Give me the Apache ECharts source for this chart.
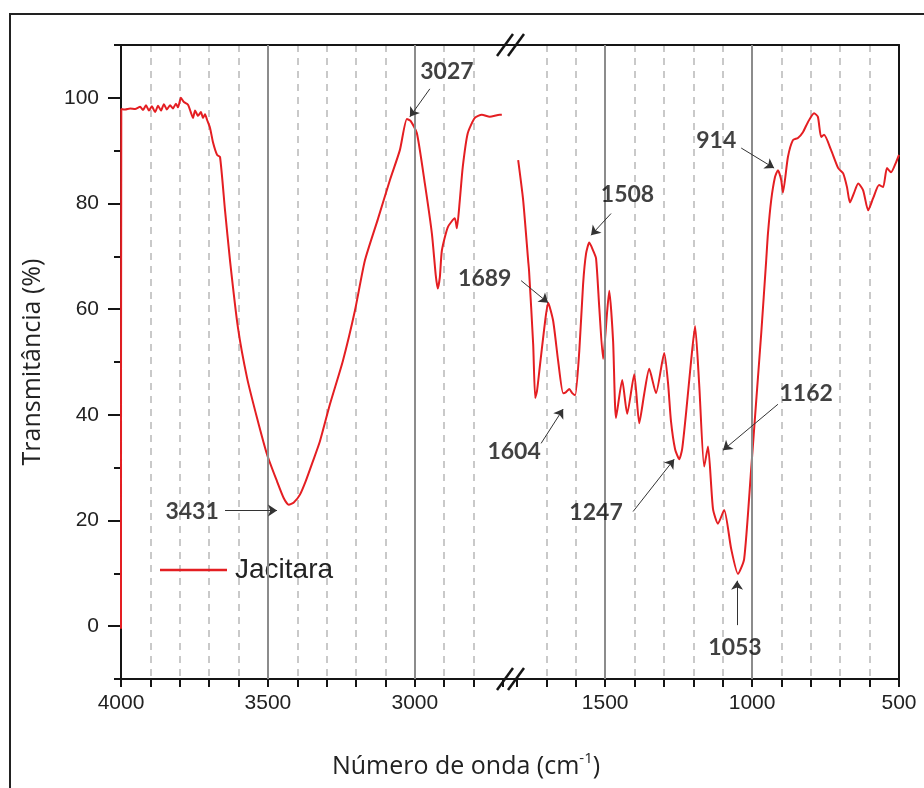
<!DOCTYPE html>
<html><head><meta charset="utf-8">
<script src="https://cdn.jsdelivr.net/npm/echarts@6/dist/echarts.min.js"></script>
<style>html,body{margin:0;padding:0;background:#fff}#c{width:924px;height:788px}</style>
</head><body><div id="c"></div>
<script>
// ---------- data ----------
const leftWavenumber = [4000, 3999, 3986, 3969, 3952, 3935, 3925, 3915, 3905, 3895, 3884, 3874, 3864, 3854, 3844, 3833, 3823, 3813, 3806, 3796, 3786, 3772, 3762, 3755, 3748, 3738, 3728, 3721, 3714, 3707, 3697, 3687, 3673, 3663, 3646, 3629, 3602, 3571, 3537, 3503, 3469, 3446, 3429, 3412, 3391, 3371, 3347, 3323, 3289, 3245, 3204, 3170, 3126, 3085, 3051, 3027, 3014, 2993, 2966, 2942, 2929, 2922, 2915, 2908, 2888, 2864, 2857, 2847, 2837, 2820, 2796, 2772, 2745, 2711, 2704];
const leftTransmittance = [-0.5, 97.9, 97.8, 98.0, 97.9, 98.3, 97.7, 98.6, 97.6, 98.4, 97.3, 98.5, 97.6, 98.8, 97.8, 98.6, 98.0, 98.9, 98.2, 100.0, 99.2, 98.7, 97.2, 96.2, 97.6, 96.6, 97.3, 96.2, 96.9, 95.8, 94.3, 91.6, 89.2, 88.8, 78.7, 69.2, 56.5, 47.0, 39.4, 32.5, 27.4, 24.2, 23.0, 23.4, 24.9, 27.5, 31.2, 35.0, 42.0, 50.2, 59.7, 69.2, 77.0, 84.4, 90.1, 96.0, 95.6, 93.3, 83.8, 74.3, 66.5, 63.9, 66.0, 71.1, 75.5, 77.2, 75.3, 80.6, 86.9, 93.3, 96.2, 96.8, 96.4, 96.8, 96.8];
const rightWavenumber = [1796, 1779, 1762, 1759, 1745, 1738, 1732, 1724, 1707, 1694, 1677, 1660, 1643, 1633, 1622, 1612, 1602, 1588, 1575, 1565, 1554, 1541, 1531, 1520, 1507, 1493, 1486, 1473, 1463, 1442, 1425, 1401, 1384, 1367, 1350, 1327, 1299, 1286, 1276, 1262, 1248, 1238, 1224, 1207, 1194, 1180, 1163, 1150, 1133, 1116, 1095, 1071, 1048, 1027, 1003, 986, 969, 952, 946, 935, 922, 912, 901, 895, 878, 861, 844, 827, 810, 789, 776, 765, 755, 731, 707, 690, 677, 667, 653, 639, 622, 605, 588, 568, 554, 541, 527, 510, 500];
const rightTransmittance = [88.2, 80.6, 69.2, 67.3, 53.4, 43.2, 44.5, 48.3, 56.5, 61.2, 57.8, 50.2, 44.1, 44.3, 44.9, 44.1, 43.7, 52.1, 64.8, 70.5, 72.6, 71.1, 69.6, 60.3, 50.6, 59.7, 63.5, 54.0, 39.4, 46.6, 40.2, 47.7, 38.4, 44.0, 48.7, 44.1, 51.7, 46.0, 38.8, 33.5, 31.6, 33.5, 40.7, 50.5, 56.8, 45.8, 30.2, 34.0, 22.2, 19.4, 22.0, 14.6, 9.9, 12.7, 29.8, 42.6, 55.3, 69.2, 74.3, 80.6, 85.0, 86.3, 84.5, 82.1, 88.8, 92.0, 92.4, 93.5, 95.4, 97.1, 96.4, 92.6, 93.0, 90.1, 86.7, 85.7, 83.1, 80.2, 82.0, 83.8, 82.5, 78.7, 81.0, 83.5, 83.1, 86.7, 85.9, 87.8, 89.2];

const yTickLabels = [0, 20, 40, 60, 80, 100];
const leftXTickLabels = [4000, 3500, 3000];
const rightXTickLabels = [1500, 1000, 500];
const seriesName = 'Jacitara';

// peak annotations (text, text anchor in data units, arrow tail, arrow head)
const leftPeakLabels = ['3431', '3027', '1689'];
const leftPeakTextAt = [[3758, 21.7], [2891, 104.9], [2762, 65.8]];
const leftArrowFrom = [[3646, 21.9], [2949, 101.7]];
const leftArrowTo = [[3469, 21.9], [3017, 96.4]];
const rightPeakLabels = ['1508', '1604', '1247', '1162', '1053', '914'];
const rightPeakTextAt = [[1424, 81.6], [1810, 33.1], [1531, 21.5], [816, 44.1], [1058, -4.0], [1122, 92.0]];
const rightArrowFrom = [[1480, 78.1], [1786, 65.4], [1718, 34.6], [1405, 21.7], [912, 42.0], [1051, 0.2], [1037, 90.5]];
const rightArrowTo = [[1548, 74.0], [1694, 61.2], [1643, 41.1], [1265, 31.6], [1099, 33.3], [1051, 8.6], [925, 86.7]];

// ---------- style / layout ----------
const RED = '#e41e22';
const AX = '#151515';
const numFont = '"Liberation Sans", Arial, sans-serif';
const txtFont = 'Lato, "Open Sans", sans-serif';
const titleFont = '"Open Sans", Lato, sans-serif';
const GT = 45, GH = 634, L1 = 121, W = 382, L2 = 517;

const pairs = (xs, ys) => xs.map((x, i) => [x, ys[i]]);
const dashed = { show: true, showMinLine: false, showMaxLine: false, lineStyle: { color: '#b8b8b8', width: 1.5, type: [7, 6] } };

function bottomX(grid, min, max, labels) {
  return {
    type: 'value', gridIndex: grid, position: 'bottom', min, max, inverse: true, interval: 100,
    axisLine: { show: true, onZero: false, lineStyle: { color: AX, width: 2 } },
    axisTick: { show: true, inside: false, length: 8, lineStyle: { color: AX, width: 2 } },
    axisLabel: { show: true, showMinLabel: true, showMaxLabel: true, margin: 14, fontSize: 21, fontFamily: numFont, color: '#222',
      formatter: v => labels.includes(v) ? String(v) : '' },
    splitLine: dashed
  };
}
function topX(grid, min, max) {
  return {
    type: 'value', gridIndex: grid, position: 'top', min, max, inverse: true,
    axisLine: { show: true, onZero: false, lineStyle: { color: AX, width: 2 } },
    axisTick: { show: false }, axisLabel: { show: false }, splitLine: { show: false }
  };
}
function annotationSeries(xi, yi, labels, textAt, from, to) {
  return {
    type: 'scatter', name: 'ann' + xi, xAxisIndex: xi, yAxisIndex: yi, clip: false, silent: true,
    symbolSize: 1, itemStyle: { color: 'rgba(0,0,0,0)' }, z: 6,
    data: textAt.map((p, i) => [p[0], p[1], labels[i]]),
    label: { show: true, position: 'inside', formatter: p => p.value[2], fontFamily: txtFont, fontWeight: 'bold', fontSize: 23, color: '#111' },
    markLine: {
      silent: true, symbol: ['none', 'arrow'], symbolSize: 9, animation: false,
      label: { show: false }, lineStyle: { color: '#333', width: 1, type: 'solid' },
      data: from.map((f, i) => [{ coord: f }, { coord: to[i] }])
    }
  };
}

const chart = echarts.init(document.getElementById('c'), null, { renderer: 'canvas' });
const option = {
  animation: false,
  backgroundColor: '#fff',
  grid: [
    { left: L1, top: GT, width: W, height: GH, containLabel: false, outerBoundsMode: 'none' },
    { left: L2, top: GT, width: W, height: GH, containLabel: false, outerBoundsMode: 'none' }
  ],
  xAxis: [
    bottomX(0, 2700, 4000, leftXTickLabels),
    topX(0, 2700, 4000),
    bottomX(1, 500, 1800, rightXTickLabels),
    topX(1, 500, 1800)
  ],
  yAxis: [
    { type: 'value', gridIndex: 0, min: -10, max: 110, interval: 10, position: 'left',
      axisLine: { show: true, onZero: false, lineStyle: { color: AX, width: 2 } },
      axisTick: { show: true, length: 7, lineStyle: { color: AX, width: 2 } },
      axisLabel: { show: false }, splitLine: { show: false } },
    { type: 'value', gridIndex: 0, min: -10, max: 110, interval: 10, position: 'left',
      axisLine: { show: false, onZero: false },
      axisTick: { show: true, length: 13, customValues: yTickLabels, lineStyle: { color: AX, width: 2 } },
      axisLabel: { show: true, customValues: yTickLabels, margin: 22, fontSize: 21, fontFamily: numFont, color: '#222',
        formatter: v => yTickLabels.includes(v) ? String(v) : '' },
      splitLine: { show: false },
      name: 'Transmitância (%)', nameLocation: 'middle', nameGap: 76,
      nameTextStyle: { fontSize: 25, fontFamily: titleFont, color: '#222' } },
    { type: 'value', gridIndex: 1, min: -10, max: 110, position: 'right',
      axisLine: { show: true, onZero: false, lineStyle: { color: AX, width: 2 } },
      axisTick: { show: false }, axisLabel: { show: false }, splitLine: { show: false } }
  ],
  legend: {
    data: [seriesName], left: 160, top: 556, padding: 0, selectedMode: false,
    icon: 'rect', itemWidth: 67, itemHeight: 2.5,
    textStyle: { fontSize: 28, fontFamily: numFont, color: '#222', padding: [0, 0, 0, 3] }
  },
  series: [
    { name: seriesName, type: 'line', xAxisIndex: 0, yAxisIndex: 0, data: pairs(leftWavenumber, leftTransmittance),
      showSymbol: false, symbol: 'none', smooth: 0.2, z: 4,
      lineStyle: { color: RED, width: 2 }, itemStyle: { color: RED },
      markLine: { silent: true, symbol: 'none', animation: false, label: { show: false },
        lineStyle: { color: '#8c8c8c', width: 2, type: 'solid' },
        data: leftXTickLabels.slice(1).map(v => ({ xAxis: v })) } },
    { name: seriesName, type: 'line', xAxisIndex: 2, yAxisIndex: 2, data: pairs(rightWavenumber, rightTransmittance),
      showSymbol: false, symbol: 'none', smooth: 0.2, z: 4,
      lineStyle: { color: RED, width: 2 }, itemStyle: { color: RED },
      markLine: { silent: true, symbol: 'none', animation: false, label: { show: false },
        lineStyle: { color: '#8c8c8c', width: 2, type: 'solid' },
        data: rightXTickLabels.slice(0, 2).map(v => ({ xAxis: v })) } },
    annotationSeries(0, 0, leftPeakLabels, leftPeakTextAt, leftArrowFrom, leftArrowTo),
    annotationSeries(2, 2, rightPeakLabels, rightPeakTextAt, rightArrowFrom, rightArrowTo)
  ],
  graphic: [
    { type: 'rect', silent: true, z: 0, shape: { x: 10, y: 14, width: 960, height: 820 }, style: { fill: 'none', stroke: '#222', lineWidth: 2 } },
    { type: 'line', silent: true, z: 10, shape: { x1: L1 + W - 1, y1: GT, x2: L2 + 1, y2: GT }, style: { stroke: AX, lineWidth: 2 } },
    { type: 'line', silent: true, z: 10, shape: { x1: L1 + W - 1, y1: GT + GH, x2: L2 + 1, y2: GT + GH }, style: { stroke: AX, lineWidth: 2 } },
    { type: 'line', silent: true, z: 10, shape: { x1: 497, y1: GT + 11, x2: 513, y2: GT - 11 }, style: { stroke: AX, lineWidth: 2.5 } },
    { type: 'line', silent: true, z: 10, shape: { x1: 508, y1: GT + 11, x2: 524, y2: GT - 11 }, style: { stroke: AX, lineWidth: 2.5 } },
    { type: 'line', silent: true, z: 10, shape: { x1: 497, y1: GT + GH + 11, x2: 513, y2: GT + GH - 11 }, style: { stroke: AX, lineWidth: 2.5 } },
    { type: 'line', silent: true, z: 10, shape: { x1: 508, y1: GT + GH + 11, x2: 524, y2: GT + GH - 11 }, style: { stroke: AX, lineWidth: 2.5 } },
    { type: 'text', silent: true, z: 10, x: 466, y: 767,
      style: { text: '{a|Número de onda (cm}{s|-1}{a|)}', align: 'center', verticalAlign: 'middle',
        rich: { a: { fontSize: 25, fontFamily: titleFont, fill: '#222', lineHeight: 32 },
                s: { fontSize: 15, fontFamily: titleFont, fill: '#222', verticalAlign: 'top', lineHeight: 16 } } } }
  ]
};
chart.setOption(option);
</script>
</body></html>
